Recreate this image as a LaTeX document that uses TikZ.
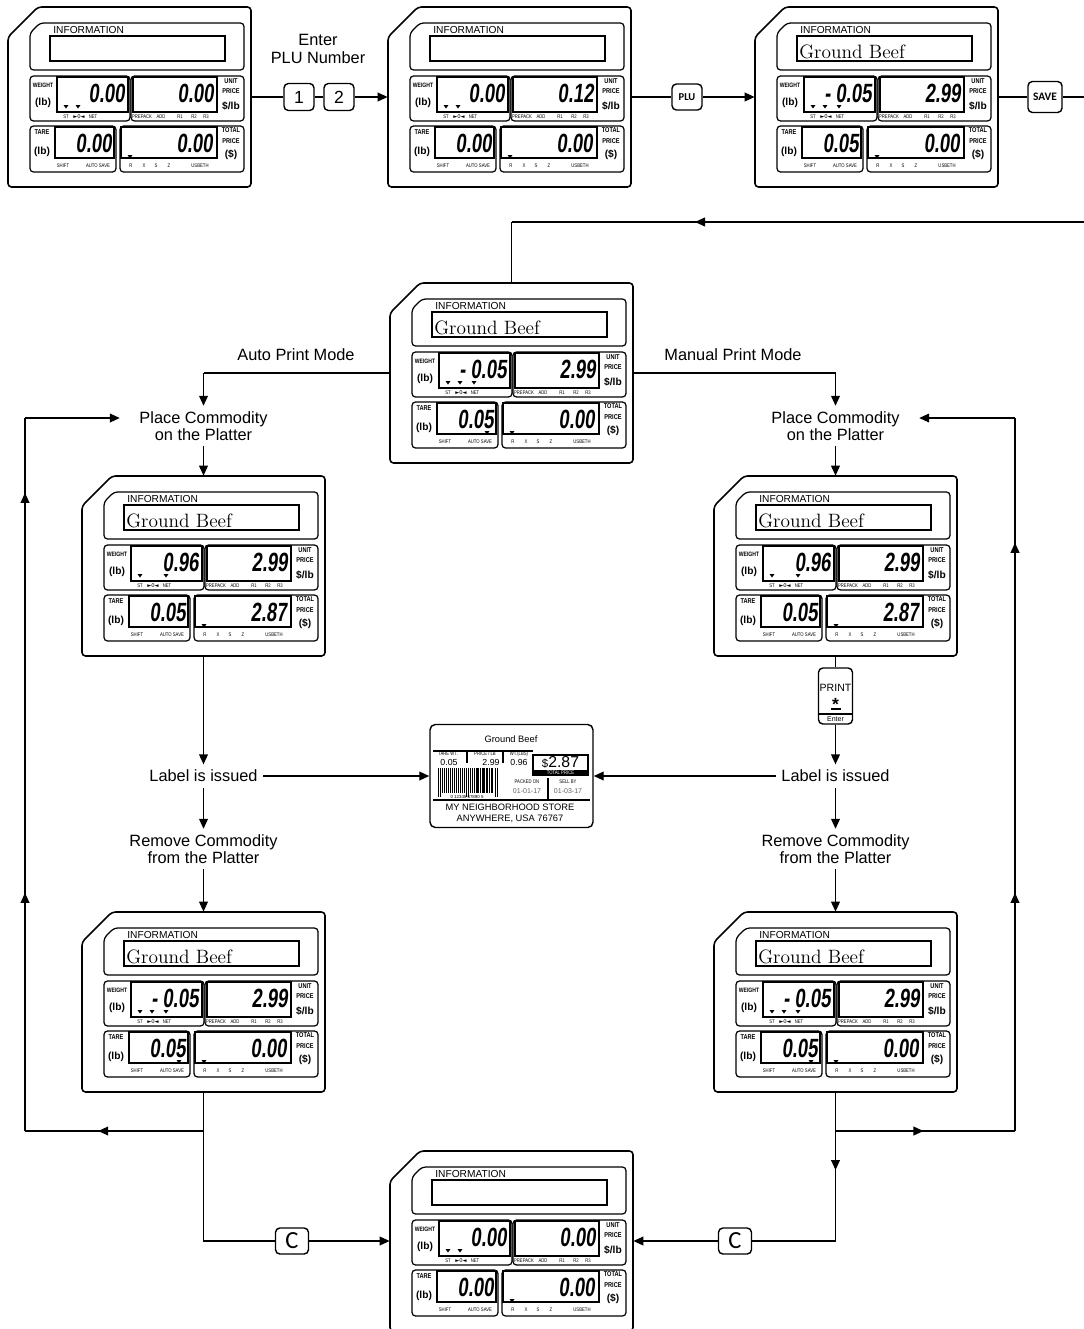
\documentclass[tikz,border=0pt]{standalone}
\usepackage{fontspec}
\usepackage{tikz}
\usetikzlibrary{positioning, arrows.meta, calc, decorations.markings}

\newfontfamily\flowfont{Liberation Sans}
\newfontfamily\lcdfont[FakeStretch=0.7,FakeSlant=0.12]{Liberation Sans}
\newfontfamily\tagfont[FakeStretch=0.8]{Liberation Sans}
\newfontfamily\keyfont{Carlito}
\newfontfamily\symfont{DejaVu Sans}

\newdimen\unitpx
\unitpx=0.02cm

\tikzset{
  flow/.style={line width=0.8pt},
  flowtext/.style={font=\flowfont\fontsize{9.3}{9.8}\selectfont, align=center, inner sep=3pt},
  key/.style={draw, line width=0.8pt, rounded corners=2.5pt, fill=white, inner sep=0pt,
    minimum width=30\unitpx, minimum height=27\unitpx},
  panelbox/.style={inner sep=0pt, minimum width=243\unitpx, minimum height=180\unitpx},
  frame/.style={line width=0.7pt, rounded corners=2pt},
  lcd/.style={line width=1.1pt},
  lcdnum/.style={font=\lcdfont\bfseries\fontsize{15}{15}\selectfont, anchor=east, inner sep=0pt},
  tiny/.style={font=\tagfont\fontsize{3}{3}\selectfont, inner sep=0pt},
  side/.style={font=\tagfont\bfseries\fontsize{4}{6}\selectfont, inner sep=0pt, align=center},
  unit/.style={font=\flowfont\bfseries\fontsize{5.8}{5.8}\selectfont, inner sep=0pt},
  rtext/.style={font=\flowfont\fontsize{5.3}{5.3}\selectfont, inner sep=0pt},
  rtiny/.style={font=\tagfont\fontsize{3}{3}\selectfont, inner sep=0pt},
  rdate/.style={font=\flowfont\fontsize{4}{4}\selectfont, text=black!60, inner sep=0pt},
  midtip/.style={postaction={decorate},
    decoration={markings, mark=at position #1 with {\arrow{>}}}},
  twotips/.style 2 args={postaction={decorate},
    decoration={markings, mark=at position #1 with {\arrow{>}},
      mark=at position #2 with {\arrow{>}}}},
}

% one scale display: name, top-left corner, info text, weight, unit price, tare, total,
% weight markers, tare marker (1/0)
\newcommand{\scalepanel}[9]{%
  \begin{scope}[shift={#2}]
    \node[panelbox] (#1) at (121.5,90) {};
    \draw[frame, line width=0.9pt] (0,30) -- (30,0) -- (243,0) -- (243,180) -- (0,180) -- cycle;
    % info window
    \draw[frame] (22,26) -- (32,16) -- (236,16) -- (236,63) -- (22,63) -- cycle;
    \draw[lcd] (42,29) rectangle (217,54);
    \node[anchor=base west, inner sep=0pt, font=\flowfont\fontsize{5.8}{6}\selectfont]
      (#1-infotag) at (45,26.5) {INFORMATION};
    \node[anchor=base west, inner sep=0pt, font=\fontsize{11}{12}\selectfont]
      (#1-info) at (44,51) {#3};
    % weight
    \draw[frame] (22,69) rectangle (122,114);
    \draw[lcd] (49,70) rectangle (120,105);
    \node[side, font=\tagfont\bfseries\fontsize{3.6}{4}\selectfont] (#1-wlab) at (35,78) {WEIGHT};
    \node[unit] (#1-wunit) at (35,96) {(lb)};
    \node[lcdnum] (#1-w) at (117,86) {#4};
    \foreach \mx in {#8} \fill (\mx-2.5,98) -- (\mx+2.5,98) -- (\mx,101.5) -- cycle;
    \foreach \tx/\lab [count=\ti] in {58/ST, 71/{\symfont ►0◄}, 85/NET}
      \node[tiny] (#1-ws\ti) at (\tx,110) {\lab};
    % unit price
    \draw[frame] (123,69) rectangle (236,114);
    \draw[lcd] (125,70) rectangle (209,105);
    \node[lcdnum] (#1-u) at (206,86) {#5};
    \node[side] (#1-ulab) at (223,79) {UNIT\\PRICE};
    \node[unit] (#1-uunit) at (223,99.5) {\$/lb};
    \foreach \tx/\lab [count=\ti] in {134/PREPACK, 153/ADD, 172/R1, 186/R2, 198/R3}
      \node[tiny] (#1-us\ti) at (\tx,110) {\lab};
    % tare
    \draw[frame] (22,119) rectangle (108,165);
    \draw[lcd] (47,120) rectangle (106,151);
    \node[side] (#1-tlab) at (34,125) {TARE};
    \node[unit] (#1-tunit) at (34,145) {(lb)};
    \node[lcdnum] (#1-t) at (104,136) {#6};
    \ifnum#9=1 \fill (94.5,148) -- (99.5,148) -- (97,151.5) -- cycle; \fi
    \foreach \tx/\lab [count=\ti] in {55/SHIFT, 90/AUTO SAVE}
      \node[tiny] (#1-ts\ti) at (\tx,159) {\lab};
    % total price
    \draw[frame] (112,119) rectangle (236,165);
    \draw[lcd] (113,120) rectangle (209,151);
    \node[lcdnum] (#1-p) at (205,136) {#7};
    \fill (119.5,148) -- (124.5,148) -- (122,151.5) -- cycle;
    \node[side] (#1-plab) at (223,128.5) {TOTAL\\PRICE};
    \node[unit] (#1-punit) at (223,148) {(\$)};
    \foreach \tx/\lab [count=\ti] in {123/R, 136/X, 148/S, 161/Z, 192/USBETH}
      \node[tiny] (#1-ps\ti) at (\tx,159) {\lab};
  \end{scope}}

\begin{document}
\begin{tikzpicture}[x=0.02cm, y=-0.02cm, >={Triangle[length=5.7pt,width=5pt]}]

\useasboundingbox (0,0) rectangle (1084,1329);

% --- Displays ---
\scalepanel{p1}{(8,7)}{}{0.00}{0.00}{0.00}{0.00}{58,70}{0}
\scalepanel{p2}{(388,7)}{}{0.00}{0.12}{0.00}{0.00}{58,70}{0}
\scalepanel{p3}{(755,7)}{Ground Beef}{-\kern3pt 0.05}{2.99}{0.05}{0.00}{58,70,84}{0}
\scalepanel{p4}{(390,283)}{Ground Beef}{-\kern3pt 0.05}{2.99}{0.05}{0.00}{58,70,84}{1}
\scalepanel{p5}{(82,476)}{Ground Beef}{0.96}{2.99}{0.05}{2.87}{58,84}{0}
\scalepanel{p6}{(714,476)}{Ground Beef}{0.96}{2.99}{0.05}{2.87}{58,84}{0}
\scalepanel{p7}{(82,912)}{Ground Beef}{-\kern3pt 0.05}{2.99}{0.05}{0.00}{58,70,84}{1}
\scalepanel{p8}{(714,912)}{Ground Beef}{-\kern3pt 0.05}{2.99}{0.05}{0.00}{58,70,84}{1}
\scalepanel{p9}{(390,1151)}{}{0.00}{0.00}{0.00}{0.00}{58,70}{0}

% --- Keys ---
\node[key, font=\flowfont\fontsize{10}{10}\selectfont] (k1) at (299,97) {1};
\node[key, font=\flowfont\fontsize{10}{10}\selectfont] (k2) at (339,97) {2};
\node[key, font=\keyfont\bfseries\fontsize{6}{6}\selectfont, minimum height=26\unitpx] (kplu) at (687,97) {PLU};
\node[key, font=\keyfont\bfseries\fontsize{6.5}{6.5}\selectfont, minimum width=34\unitpx,
  minimum height=31\unitpx] (ksave) at (1045,97) {SAVE};
\node[key, font=\keyfont\fontsize{14}{14}\selectfont, minimum width=33\unitpx,
  minimum height=26\unitpx] (kc1) at (292,1241) {C};
\node[key, font=\keyfont\fontsize{14}{14}\selectfont, minimum width=33\unitpx,
  minimum height=26\unitpx] (kc2) at (735,1241) {C};

% PRINT key
\node[key, minimum width=34\unitpx, minimum height=56\unitpx] (kprint) at (835.5,696) {};
\node[font=\flowfont\fontsize{6}{6}\selectfont, inner sep=0pt] (kprint-t) at (835.5,688) {PRINT};
\node[font=\flowfont\bfseries\fontsize{10}{10}\selectfont, inner sep=0pt] (kprint-s) at (835.5,704) {*};
\draw[line width=0.9pt] (830.5,709) -- (840.5,709);
\draw[line width=0.6pt] (kprint.west |- 0,714) -- (kprint.east |- 0,714);
\node[font=\flowfont\fontsize{4}{4}\selectfont, inner sep=0pt] (kprint-e) at (835.5,719) {Enter};

% --- Flow texts ---
\node[flowtext] (enter) at (318,49) {Enter\\PLU Number};
\node[flowtext] (auto) at (296,355) {Auto Print Mode};
\node[flowtext] (manual) at (733,355) {Manual Print Mode};
\node[flowtext] (place-l) at (203.5,426) {Place Commodity\\on the Platter};
\node[flowtext] (place-r) at (835.5,426) {Place Commodity\\on the Platter};
\node[flowtext] (issued-l) at (203.5,776) {Label is issued};
\node[flowtext] (issued-r) at (835.5,776) {Label is issued};
\node[flowtext] (remove-l) at (203.5,849) {Remove Commodity\\from the Platter};
\node[flowtext] (remove-r) at (835.5,849) {Remove Commodity\\from the Platter};

% --- Printed label ---
\node[draw, line width=0.8pt, rounded corners=3pt, inner sep=0pt, minimum width=163\unitpx,
  minimum height=103\unitpx] (lbl) at (511.5,776) {};
\node[rtext] (lbl-name) at (511,739) {Ground Beef};
\draw[line width=0.6pt] (433,751) -- (533,751);
\node[rtiny] (lbl-t1) at (448,754) {TARE WT.};
\node[rtext, font=\flowfont\fontsize{5}{5}\selectfont] (lbl-v1) at (449,762) {0.05};
\fill (466,751) rectangle (468,763);
\node[rtiny] (lbl-t2) at (485,754) {PRICE / LB};
\node[rtext, font=\flowfont\fontsize{5}{5}\selectfont] (lbl-v2) at (491,762) {2.99};
\fill (502,751) rectangle (504,763);
\node[rtiny] (lbl-t3) at (519,754) {WT.(LBS)};
\node[rtext, font=\flowfont\fontsize{5}{5}\selectfont] (lbl-v3) at (519,762) {0.96};
\draw[line width=1pt] (533,755) rectangle (588,775);
\fill (533,770) rectangle (588,775);
\node[inner sep=0pt, font=\flowfont\fontsize{9}{9}\selectfont] (lbl-total)
  at (560.5,762.5) {{\fontsize{6.5}{6.5}\selectfont\$}2.87};
\node[rtiny, text=white] (lbl-tp) at (560.5,772.7) {TOTAL PRICE};
% barcode
\foreach \bx/\bw in {442/0.6, 443.5/1.6, 446/0.6, 447.5/0.9, 449.5/1.8, 452.3/0.6, 453.8/1.2,
    456/0.6, 457.5/1.8, 460.2/0.9, 462/0.6, 463.5/1.5, 469.5/1.5, 472/0.6, 473.5/1.2,
    475.7/0.6, 477/1.8, 479.8/0.9, 481.7/0.6, 483/1.5, 485.5/0.6, 487/1.2, 489.2/0.9, 491/1.8}
  \fill (\bx,768) rectangle ++(\bw,25);
\foreach \bx in {438, 440, 466, 467.8, 494.5, 496.5}
  \fill (\bx,768) rectangle ++(1,29);
\node[inner sep=0pt, font=\flowfont\fontsize{2.5}{2.5}\selectfont] (lbl-code) at (467,796.5) {0\ 12345\ 67890\ 5};
\node[rtiny] (lbl-t4) at (527,782) {PACKED ON};
\node[rdate] (lbl-d1) at (527,791) {01-01-17};
\draw[line width=0.8pt] (548,778) -- (548,800);
\node[rtiny] (lbl-t5) at (568,782) {SELL BY};
\node[rdate] (lbl-d2) at (568,791) {01-03-17};
\draw[line width=1.2pt] (433,800) -- (590,800);
\node[rtext] (lbl-store) at (510,807.5) {MY NEIGHBORHOOD STORE};
\node[rtext] (lbl-town) at (510,818.5) {ANYWHERE, USA 76767};

% --- Corner points ---
\coordinate (c-r1) at (1094,97);
\coordinate (c-r2) at (1094,222);
\coordinate (c-t) at (p4.north |- c-r2);
\coordinate (c-al) at (place-l |- p4);
\coordinate (c-ar) at (place-r |- p4);
\coordinate (c-jl) at (203.5,1131);
\coordinate (c-ll) at (25,1131);
\coordinate (c-lu) at (25,418);
\coordinate (c-cl) at (c-jl |- p9);
\coordinate (c-jr) at (835.5,1131);
\coordinate (c-rr) at (1015,1131);
\coordinate (c-ru) at (1015,418);
\coordinate (c-cr) at (c-jr |- p9);

% --- Top row ---
\draw[flow] (p1) -- (k1);
\draw[flow] (k1) -- (k2);
\draw[flow, ->] (k2) -- (p2);
\draw[flow] (p2) -- (kplu);
\draw[flow, ->] (kplu) -- (p3);
\draw[flow] (p3) -- (ksave);
\draw[flow] (ksave) -- (c-r1) -- (c-r2);
\draw[flow, midtip=0.685] (c-r2) -- (c-t);
\draw[flow] (c-t) -- (p4);

% --- Auto print (left) ---
\draw[flow] (p4) -- (c-al);
\draw[flow, ->] (c-al) -- (place-l);
\draw[flow, ->] (place-l) -- (p5);
\draw[flow, ->] (p5) -- (issued-l);
\draw[flow, ->] (issued-l) -- (lbl);
\draw[flow, ->] (issued-l) -- (remove-l);
\draw[flow, ->] (remove-l) -- (p7);
\draw[flow] (p7) -- (c-jl);
\draw[flow, midtip=0.59] (c-jl) -- (c-ll);
\draw[flow, twotips={0.334}{0.895}] (c-ll) -- (c-lu);
\draw[flow, ->, shorten >=8pt] (c-lu) -- (c-lu -| place-l.west);
\draw[flow] (c-jl) -- (c-cl) -- (kc1);
\draw[flow, ->] (kc1) -- (p9);

% --- Manual print (right) ---
\draw[flow] (p4) -- (c-ar);
\draw[flow, ->] (c-ar) -- (place-r);
\draw[flow, ->] (place-r) -- (p6);
\draw[flow] (p6) -- (kprint);
\draw[flow, ->] (kprint) -- (issued-r);
\draw[flow, ->] (issued-r) -- (lbl);
\draw[flow, ->] (issued-r) -- (remove-r);
\draw[flow, ->] (remove-r) -- (p8);
\draw[flow] (p8) -- (c-jr);
\draw[flow, midtip=0.49] (c-jr) -- (c-rr);
\draw[flow, twotips={0.334}{0.825}] (c-rr) -- (c-ru);
\draw[flow, ->, shorten >=8pt] (c-ru) -- (c-ru -| place-r.east);
\draw[flow, midtip=0.355] (c-jr) -- (c-cr);
\draw[flow] (c-cr) -- (kc2);
\draw[flow, ->] (kc2) -- (p9);

\end{tikzpicture}
\end{document}
